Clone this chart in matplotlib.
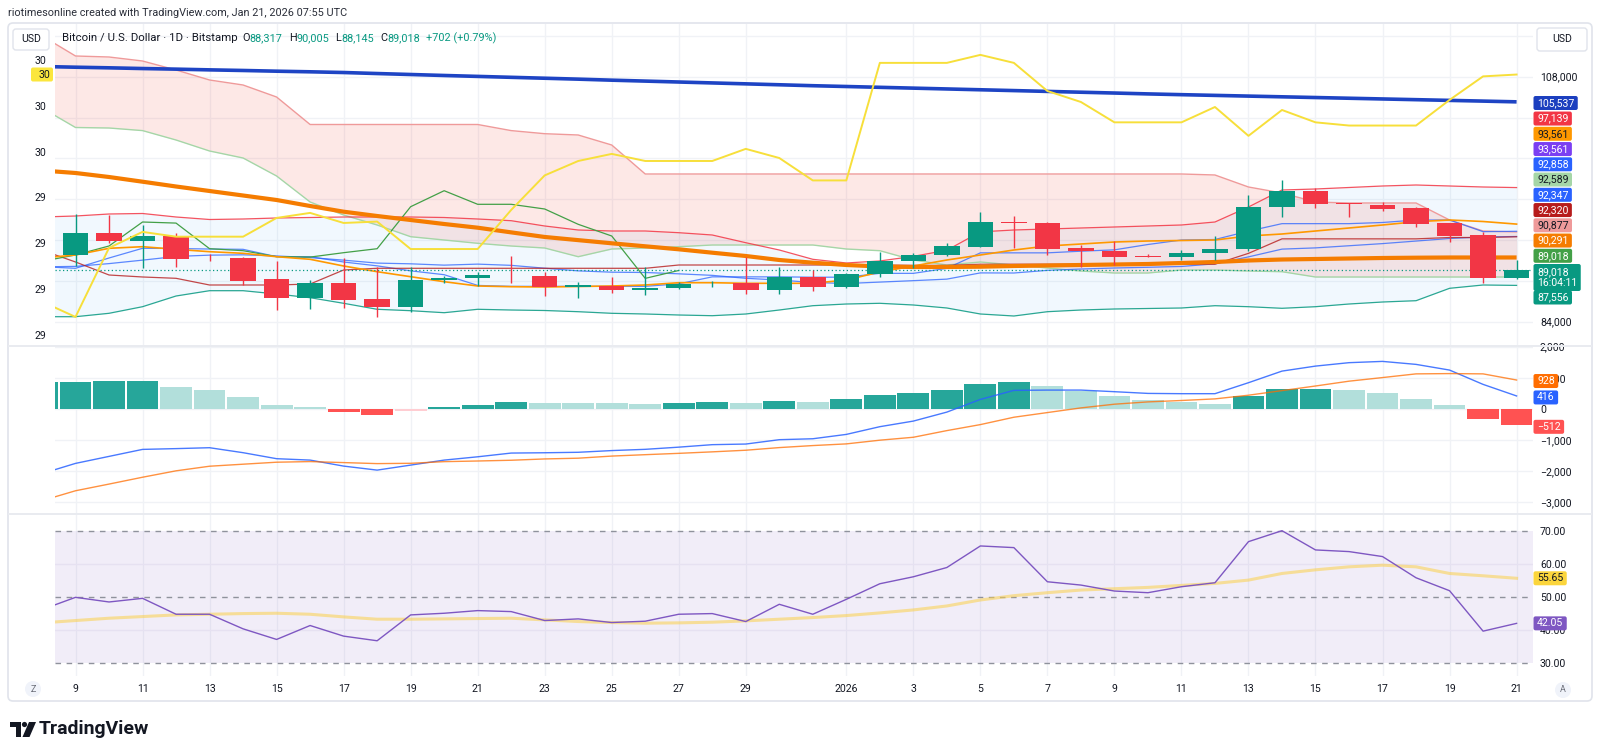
import numpy as np
import pandas as pd
import matplotlib
matplotlib.use("Agg")
import matplotlib.pyplot as plt
from matplotlib.patches import FancyBboxPatch, Rectangle, Polygon, Circle
from matplotlib.transforms import IdentityTransform

plt.rcParams['font.family'] = ['Roboto', 'DejaVu Sans']

# ---------------- data (BTC/USD, Bitstamp, 1D) ----------------
# indicator series start on Dec 8 (only partly visible), candles on Dec 9
dates = pd.date_range("2025-12-08", "2026-01-21", freq="D")

opens = [90534, 92659, 91935, 92424, 90280, 90200, 88183, 86351, 87820, 86194, 85440, 88085, 88300,
         88620, 88475, 87369, 87540, 87105, 87300, 87750, 87790, 87076, 88378,
         87429, 88672, 89917, 90534, 91350, 93800, 93698, 91200, 90955, 90430, 90330, 90760, 91150,
         95265, 96832, 95600, 95460, 95100, 93638, 92460, 88317]
highs = [94550, 94452, 93472, 92718, 90620, 90367, 89946, 88085, 90269, 89388, 89329, 88500, 88898,
         90435, 88868, 87860, 88408, 89388, 87890, 88000, 90367, 89329, 89035,
         88800, 90857, 90759, 91740, 94775, 94384, 93800, 91513, 91906, 90600, 91000, 92395, 96411,
         97880, 97068, 95600, 95700, 95265, 93700, 92800, 90005]
lows = [89456, 91700, 89231, 89388, 89900, 87595, 85146, 85215, 85313, 84490, 84979, 87800, 87497,
        87820, 86547, 86351, 86840, 86615, 87200, 87430, 86713, 86713, 87037,
        87300, 88349, 89231, 90400, 91300, 91190, 90534, 89329, 89555, 90300, 90050, 90044, 90900,
        94286, 95108, 94290, 94800, 93300, 91837, 87761, 88145]
closes = [92659, 91935, 92424, 90142, 90200, 88016, 86351, 87820, 86126, 85440, 88085, 88300, 88600,
          88545, 87369, 87565, 87076, 87300, 87722, 87820, 87076, 88378, 87429,
          88672, 89917, 90534, 91416, 93766, 93660, 91151, 90955, 90367, 90330, 90760, 91150, 95265,
          96832, 95500, 95500, 95040, 93540, 92395, 88245, 89018]

sma_slow = [109000, 108930, 108870, 108800, 108740, 108670, 108610, 108540, 108480, 108410, 108310, 108215,
            108120, 108030, 107940, 107850, 107760, 107660, 107570, 107480, 107390, 107300, 107210, 107118,
            107040, 106960, 106880, 106800, 106720, 106640, 106560, 106480, 106400, 106315, 106240, 106170,
            106100, 106030, 105960, 105890, 105820, 105750, 105680, 105610, 105537]
sma_mid = [98811, 98567, 98174, 97714, 97244, 96803, 96362, 95922, 95334, 94776, 94354, 93962,
           93570, 93208, 92750, 92300, 91990, 91680, 91386, 91092, 90759, 90436, 90044, 89780,
           89554, 89407, 89358, 89358, 89387, 89456, 89505, 89554, 89603, 89652, 89750, 89848,
           89995, 90093, 90142, 90191, 90240, 90269, 90289, 90290, 90291]
ema_fast = [90240, 90534, 91190, 91347, 91092, 90857, 90700, 90367, 90112, 89456, 88898, 88408,
            87918, 87497, 87428, 87399, 87448, 87497, 87595, 87820, 87820, 87762, 87762, 87762,
            88085, 88868, 89456, 90044, 90534, 91023, 91415, 91611, 91807, 91905, 91954, 92004,
            92395, 92591, 92885, 93179, 93473, 93796, 93963, 93815, 93561]
bb_upper = [94256, 94354, 94550, 94599, 94256, 94011, 94060, 94158, 94207, 94256, 94256, 94256,
            94207, 94060, 93894, 93375, 92983, 92885, 92885, 92718, 92493, 91738, 91023, 90112,
            89750, 89950, 90400, 91000, 92800, 92983, 93081, 93179, 93277, 93375, 93473, 93766,
            95236, 96901, 96999, 97146, 97293, 97391, 97293, 97195, 97139]
bb_basis = [89370, 89420, 89690, 90030, 90390, 90520, 90550, 90440, 90280, 90030, 89740, 89670,
            89540, 89640, 89520, 89240, 88980, 88850, 88820, 88690, 88540, 88250, 88080, 87840,
            87740, 87880, 88020, 88170, 88780, 88770, 89030, 89160, 89260, 89330, 89410, 89670,
            90350, 91110, 91230, 91440, 91650, 91900, 92150, 92300, 92347]
bb_lower = [84489, 84489, 84822, 85469, 86517, 87037, 87037, 86713, 86351, 85802, 85215, 85077,
            84881, 85215, 85145, 85096, 84979, 84822, 84754, 84656, 84587, 84754, 85145, 85567,
            85733, 85802, 85636, 85342, 84754, 84558, 84979, 85145, 85244, 85293, 85342, 85567,
            85469, 85313, 85469, 85733, 85929, 86057, 87271, 87595, 87556]
ichi_conv = [89390, 89230, 90240, 91190, 91170, 91120, 91090, 90370, 90370, 89848, 89471, 88981,
             88604, 87555, 87463, 87463, 87463, 87463, 87463, 87707, 88393, 88393, 88393, 88359,
             88359, 88736, 88736, 89227, 90744, 90744, 90744, 90906, 91038, 91562, 92003, 92052,
             92870, 93605, 93605, 93605, 93718, 93962, 93962, 92820, 92858]
ichi_base = [91000, 89850, 88575, 88380, 88250, 87595, 87595, 87595, 87690, 89064, 89231, 89231,
             89231, 89231, 89231, 89231, 89231, 89231, 89231, 89554, 89554, 89554, 89554, 89554,
             89554, 89554, 89520, 89520, 89632, 89632, 89632, 89632, 89632, 89632, 89632, 89632,
             90695, 92115, 92115, 92115, 92115, 92115, 92247, 92247, 92320]
span_a = [104934, 103024, 102975, 102720, 101799, 100722, 100036, 98273, 95726, 94452, 93473, 92326,
          92003, 91680, 91415, 91219, 90367, 91121, 91219, 91347, 91513, 91513, 91513, 91513,
          91121, 90955, 90044, 89554, 89848, 89554, 89260, 88966, 88770, 88770, 89064, 89064,
          88966, 88898, 88378, 88378, 88378, 88378, 88378, 88378, 88378]
span_b = [112000, 110028, 109930, 109538, 108656, 107677, 107187, 106011, 103318, 103318, 103318, 103318,
          103318, 103318, 102720, 102416, 102289, 101309, 98469, 98469, 98469, 98469, 98469, 98469,
          98469, 98469, 98469, 98469, 98469, 98469, 98469, 98469, 98469, 98469, 98469, 98371,
          97195, 96607, 95726, 95628, 95628, 95628, 93963, 92885, 92787]
# yellow study drawn on the left scale
left_series = [29.344, 29.277, 29.579, 29.649, 29.628, 29.628, 29.628, 29.710, 29.732, 29.688, 29.694, 29.574,
               29.574, 29.574, 29.745, 29.896, 29.959, 29.990, 29.959, 29.959, 29.959, 30.012, 29.972, 29.874,
               29.874, 30.388, 30.388, 30.388, 30.423, 30.388, 30.265, 30.217, 30.128, 30.128, 30.128, 30.195,
               30.069, 30.182, 30.128, 30.114, 30.114, 30.114, 30.226, 30.329, 30.337]

macd_line = [-2080, -1752, -1527, -1302, -1277, -1248, -1408, -1601, -1646, -1839, -1968, -1807,
             -1646, -1540, -1420, -1410, -1395, -1340, -1300, -1230, -1150, -1130, -990, -960,
             -820, -572, -392, -103, 305, 595, 605, 605, 553, 498, 489, 489,
             842, 1215, 1376, 1486, 1527, 1431, 1248, 788, 416]
macd_signal = [-2950, -2632, -2417, -2197, -1991, -1843, -1778, -1714, -1694, -1726, -1759, -1749,
               -1696, -1675, -1651, -1609, -1585, -1517, -1472, -1429, -1381, -1329, -1244, -1179,
               -1125, -1006, -912, -698, -505, -268, -118, 32, 151, 225, 270, 322,
               440, 588, 736, 891, 1007, 1126, 1135, 1126, 928]
macd_hist = [870, 880, 890, 895, 714, 595, 370, 113, 48, -113, -209, -58,
             50, 135, 231, 199, 190, 177, 172, 199, 231, 199, 254, 219,
             305, 434, 520, 595, 810, 863, 723, 573, 402, 273, 219, 167,
             402, 627, 640, 595, 520, 305, 113, -338, -512]

rsi = [46.2, 49.9, 48.5, 49.6, 44.8, 44.8, 40.4, 37.2, 41.4, 38.2, 36.8, 44.6,
       45.1, 45.9, 45.6, 42.9, 43.4, 42.3, 42.7, 44.8, 45.0, 42.6, 47.8, 44.8,
       49.3, 54.0, 56.1, 58.9, 65.4, 64.9, 54.6, 53.6, 51.8, 51.3, 53.1, 54.3,
       66.7, 70.0, 64.2, 63.7, 62.2, 55.8, 51.9, 39.7, 42.05]
rsi_ma = [42.2, 42.9, 43.6, 44.1, 44.6, 44.8, 45.0, 45.1, 44.8, 44.0, 43.3, 43.3,
          43.4, 43.5, 43.6, 43.1, 42.6, 42.3, 42.1, 42.2, 42.4, 42.8, 43.3, 43.8,
          44.4, 45.2, 46.1, 47.3, 49.1, 50.4, 51.3, 52.1, 52.5, 52.9, 53.5, 54.1,
          55.1, 57.1, 58.2, 59.1, 59.6, 59.1, 57.1, 56.4, 55.65]

tick_dates = ["2025-12-09", "2025-12-11", "2025-12-13", "2025-12-15", "2025-12-17", "2025-12-19",
              "2025-12-21", "2025-12-23", "2025-12-25", "2025-12-27", "2025-12-29", "2026-01-01",
              "2026-01-03", "2026-01-05", "2026-01-07", "2026-01-09", "2026-01-11", "2026-01-13",
              "2026-01-15", "2026-01-17", "2026-01-19", "2026-01-21"]
tick_labels = ["9", "11", "13", "15", "17", "19", "21", "23", "25", "27", "29", "2026",
               "3", "5", "7", "9", "11", "13", "15", "17", "19", "21"]

price_grid = [112000, 108000, 104000, 100000, 96000, 92000, 88000, 84000]
price_ticks = [108000, 84000]
price_tick_labels = ["108,000", "84,000"]
left_ticks = [30.4, 30.2, 30.0, 29.8, 29.6, 29.4, 29.2]
left_tick_labels = ["30", "30", "30", "29", "29", "29", "29"]
macd_ticks = [2000, 1000, 0, -1000, -2000, -3000]
macd_tick_labels = ["2,000", "1,000", "0", "\u22121,000", "\u22122,000", "\u22123,000"]
rsi_ticks = [70, 60, 50, 40, 30]
rsi_tick_labels = ["70.00", "60.00", "50.00", "40.00", "30.00"]

# legend line above the chart
header_title = "Bitcoin / U.S. Dollar \u00b7 1D \u00b7 Bitstamp"
header_ohlc = [("O", "88,317"), ("H", "90,005"), ("L", "88,145"), ("C", "89,018")]
header_change = "+702 (+0.79%)"

# stacked price-scale tags: text, background, text colour
scale_tags = [("105,537", "#1c3fbf", "white"), ("97,139", "#f23645", "white"),
              ("93,561", "#ff9800", "#131722"), ("93,561", "#7b3ff2", "white"),
              ("92,858", "#2962ff", "white"), ("92,589", "#a5d6a7", "#131722"),
              ("92,347", "#2962ff", "white"), ("92,320", "#b71c1c", "white"),
              ("90,877", "#ef9a9a", "#131722"), ("90,291", "#f57c00", "white"),
              ("89,018", "#43a047", "white")]

# ---------------- layout ----------------
W, H = 1600, 756
TXT = "#131722"
UP, DOWN = "#089981", "#f23645"
GRID = "#f0f2f6"
FS = 7.6

fig = plt.figure(figsize=(W / 100, H / 100), dpi=100)
fig.patch.set_facecolor("white")
PX = IdentityTransform()
renderer = fig.canvas.get_renderer()


def box(x0, y0, x1, y1):
    return [x0 / W, 1 - y1 / H, (x1 - x0) / W, (y1 - y0) / H]


def ptext(x, y, s, **kw):
    kw.setdefault("fontsize", FS)
    kw.setdefault("color", TXT)
    return fig.text(x, H - y, s, transform=PX, **kw)


def tag(x0, yc, s, bg, fg, h=14, ha_pad=3.5, zorder=20):
    t = ptext(x0 + ha_pad, yc, s, ha="left", va="center", color=fg, zorder=zorder + 1,
              linespacing=1.15)
    w = t.get_window_extent(renderer).width + 2 * ha_pad
    fig.add_artist(FancyBboxPatch((x0, H - yc - h / 2), w, h, boxstyle="round,pad=0,rounding_size=2",
                                  transform=PX, fc=bg, ec="none", zorder=zorder))


PL, PR = 55, 1533
ax = fig.add_axes(box(PL, 24, PR, 346))
ax_macd = fig.add_axes(box(PL, 346, PR, 514))
ax_rsi = fig.add_axes(box(PL, 514, PR, 676))

x_all = np.arange(len(dates)) - 1
cx = x_all[1:]
tick_x = [dates.get_loc(pd.Timestamp(d)) - 1 for d in tick_dates]
XLIM = (-0.612, 43.49)

for a in (ax, ax_macd, ax_rsi):
    a.set_xlim(*XLIM)
    for s in a.spines.values():
        s.set_visible(False)
    a.set_facecolor("none")
    for t in tick_x:
        a.axvline(t, color=GRID, lw=1, zorder=0)

# ---------------- main pane ----------------
ax.set_ylim(81619, 113163)
for p in price_grid:
    ax.axhline(p, color=GRID, lw=1, zorder=0)

ax.fill_between(x_all, bb_lower, bb_upper, color="#2196f3", alpha=0.06, lw=0, zorder=1)
sa, sb = np.array(span_a), np.array(span_b)
ax.fill_between(x_all, sa, sb, where=sb >= sa, interpolate=True, color="#f44336", alpha=0.12, lw=0, zorder=1)
ax.fill_between(x_all, sa, sb, where=sa > sb, interpolate=True, color="#4caf50", alpha=0.12, lw=0, zorder=1)
ax.plot(x_all, span_a, color="#a5d6a7", lw=1, zorder=2)
ax.plot(x_all, span_b, color="#ef9a9a", lw=1, zorder=2)

ax.plot(x_all, bb_upper, color="#f23645", lw=0.9, alpha=0.85, zorder=3)
ax.plot(x_all, bb_lower, color="#089981", lw=0.9, alpha=0.85, zorder=3)
ax.plot(x_all, bb_basis, color="#2962ff", lw=0.9, alpha=0.75, zorder=3)
ax.plot(x_all, ichi_conv, color="#2962ff", lw=0.9, alpha=0.75, zorder=3)
ax.plot(x_all, ichi_base, color="#b71c1c", lw=0.9, alpha=0.8, zorder=3)
ax.plot(cx - 25, closes, color="#43a047", lw=0.9, zorder=3)   # lagging span
ax.plot(x_all, ema_fast, color="#ff9800", lw=1.2, zorder=3)
ax.plot(x_all, sma_mid, color="#f57c00", lw=3.0, zorder=4, solid_capstyle="butt")
ax.plot(x_all, sma_slow, color="#1e44c4", lw=2.6, zorder=4, solid_capstyle="butt")
ax.axhline(closes[-1], color="#089981", lw=0.9, ls=(0, (1, 2)), zorder=5)

o, hi, lo, c = map(np.array, (opens, highs, lows, closes))
ccol = np.where(c >= o, UP, DOWN)
ax.vlines(cx, lo, hi, colors=ccol, lw=1, zorder=6)
ax.bar(cx, np.maximum(np.abs(c - o), 70), bottom=np.minimum(o, c), width=0.76, color=ccol, lw=0, zorder=7)

ax.set_xticks([])

ax_l = ax.twinx()
ax_l.set_xlim(*XLIM)
ax_l.set_ylim(29.150, 30.558)
for s in ax_l.spines.values():
    s.set_visible(False)
ax_l.plot(x_all, left_series, color="#f7df3a", lw=1.4, zorder=8)
ax_l.yaxis.tick_left()
ax_l.set_yticks(left_ticks, left_tick_labels)
ax_l.tick_params(axis="y", length=0, pad=6, labelsize=FS, labelcolor=TXT)
ax_l.set_xticks([])

ax.yaxis.tick_right()
ax.set_yticks(price_ticks, price_tick_labels)
ax.tick_params(axis="y", length=0, pad=5, labelsize=FS, labelcolor=TXT)

# ---------------- MACD pane ----------------
ax_macd.set_ylim(-3379, 2022)
for v in macd_ticks:
    ax_macd.axhline(v, color=GRID, lw=1, zorder=0)
hist = np.array(macd_hist)
prev = np.r_[hist[0] - 1, hist[:-1]]
hcol = np.where(hist >= 0, np.where(hist >= prev, "#26a69a", "#b2dfdb"),
                np.where(hist >= prev, "#ffcdd2", "#ff5252"))
ax_macd.bar(x_all, hist, width=0.95, color=hcol, lw=0, zorder=2)
ax_macd.plot(x_all, macd_line, color="#2962ff", lw=1, alpha=0.85, zorder=3)
ax_macd.plot(x_all, macd_signal, color="#ff6d00", lw=1, alpha=0.75, zorder=3)
ax_macd.set_xticks([])
ax_macd.yaxis.tick_right()
ax_macd.set_yticks(macd_ticks, macd_tick_labels)
ax_macd.tick_params(axis="y", length=0, pad=5, labelsize=FS, labelcolor=TXT)

# ---------------- RSI pane ----------------
ax_rsi.set_ylim(26.17, 75.04)
ax_rsi.axhspan(30, 70, color="#7e57c2", alpha=0.1, lw=0, zorder=0)
for v in (60, 40):
    ax_rsi.axhline(v, color="#e6e1f1", lw=1, zorder=1)
for v in (70, 50, 30):
    ax_rsi.axhline(v, color="#8f929c", lw=1, ls=(0, (4, 4)), zorder=1)
ax_rsi.plot(x_all, rsi_ma, color="#fbd04a", lw=2.2, alpha=0.55, zorder=2)
ax_rsi.plot(x_all, rsi, color="#7e57c2", lw=1, zorder=3)
ax_rsi.yaxis.tick_right()
ax_rsi.set_yticks(rsi_ticks, rsi_tick_labels)
ax_rsi.set_xticks(tick_x, tick_labels)
ax_rsi.tick_params(axis="y", length=0, pad=5, labelsize=FS, labelcolor=TXT)
ax_rsi.tick_params(axis="x", length=0, pad=5.5, labelsize=FS, labelcolor=TXT)

# ---------------- frame, separators, header ----------------
fig.add_artist(FancyBboxPatch((8, H - 701), 1584, 678, boxstyle="round,pad=0,rounding_size=5",
                              transform=PX, fc="none", ec="#e0e3eb", lw=1.2, zorder=15))
for yy in (346, 514):
    fig.add_artist(Rectangle((8, H - yy - 1), 1584, 2, transform=PX, fc="#e9ebf0", ec="none", zorder=15))

ptext(8, 12.5, "riotimesonline created with TradingView.com, Jan 21, 2026 07:55 UTC", va="center",
      fontsize=7.8, color="#2a2e39")

# legend line: title, then O/H/L/C pairs packed one after another
HFS = 7.8
ptext(62, 38, header_title, va="center", fontsize=8.2)
hx = 242
for lab, val in header_ohlc:
    t = ptext(hx, 38, lab, va="center", fontsize=HFS)
    hx = t.get_window_extent(renderer).x1 + 0.3
    t = ptext(hx, 38, val, va="center", fontsize=HFS, color=UP)
    hx = t.get_window_extent(renderer).x1 + 6
ptext(hx, 38, header_change, va="center", fontsize=HFS, color=UP)

for (x0, y0, x1, y1) in ((13, 29, 49, 50), (1537, 28, 1587, 51)):
    fig.add_artist(FancyBboxPatch((x0, H - y1), x1 - x0, y1 - y0, boxstyle="round,pad=0,rounding_size=3",
                                  transform=PX, fc="white", ec="#e0e3eb", lw=1, zorder=16))
    ptext((x0 + x1) / 2, (y0 + y1) / 2, "USD", ha="center", va="center", zorder=17)

# price-scale tags
for i, (s, bg, fg) in enumerate(scale_tags):
    tag(1533.5, 103 + 15.25 * i + (0 if i == 0 else 0.3), s, bg, fg)
tag(1533.5, 277.5, "89,018\n16:04:11", "#089981", "white", h=27)
tag(1533.5, 297.5, "87,556", "#089981", "white")

# left-scale tag
fig.add_artist(FancyBboxPatch((31, H - 81.5), 22, 14, boxstyle="round,pad=0,rounding_size=2",
                              transform=PX, fc="#fbe63d", ec="none", zorder=20))
ptext(50, 74.5, "30", ha="right", va="center", zorder=21)


# pane value tags placed at their values
def ypix(a, v):
    return H - a.transData.transform((0, v))[1]


tag(1533.5, ypix(ax_macd, macd_signal[-1]) + 1, f"{macd_signal[-1]:,}", "#ff6d00", "white")
tag(1533.5, ypix(ax_macd, macd_line[-1]) + 1.5, f"{macd_line[-1]:,}", "#2962ff", "white")
tag(1533.5, ypix(ax_macd, macd_hist[-1]) + 2, f"\u2212{abs(macd_hist[-1])}", "#ff5252", "white")
tag(1533.5, ypix(ax_rsi, rsi_ma[-1]), f"{rsi_ma[-1]:.2f}", "#fbd53c", TXT)
tag(1533.5, ypix(ax_rsi, rsi[-1]), f"{rsi[-1]:.2f}", "#7e57c2", "white")

# scale buttons
for (xx, yy, s) in ((33, 689, "Z"), (1563, 690, "A")):
    fig.add_artist(Circle((xx, H - yy), 8, transform=PX, fc="#f0f3fa", ec="none", zorder=16))
    ptext(xx, yy, s, ha="center", va="center", fontsize=6.5, color="#6a6d78", zorder=17)

# footer logo
fig.add_artist(Rectangle((10, H - 727), 11, 5, transform=PX, fc="#131722", ec="none"))
fig.add_artist(Rectangle((15.5, H - 737), 5.5, 15, transform=PX, fc="#131722", ec="none"))
fig.add_artist(Circle((24.5, H - 724.5), 2.6, transform=PX, fc="#131722", ec="none"))
fig.add_artist(Polygon([(29, H - 722), (36, H - 722), (29.5, H - 737), (22.5, H - 737)],
                       closed=True, transform=PX, fc="#131722", ec="none"))
ptext(39, 729.5, "TradingView", va="center", fontsize=14, fontweight="bold")

fig.savefig("out.png", dpi=100, facecolor="white")
